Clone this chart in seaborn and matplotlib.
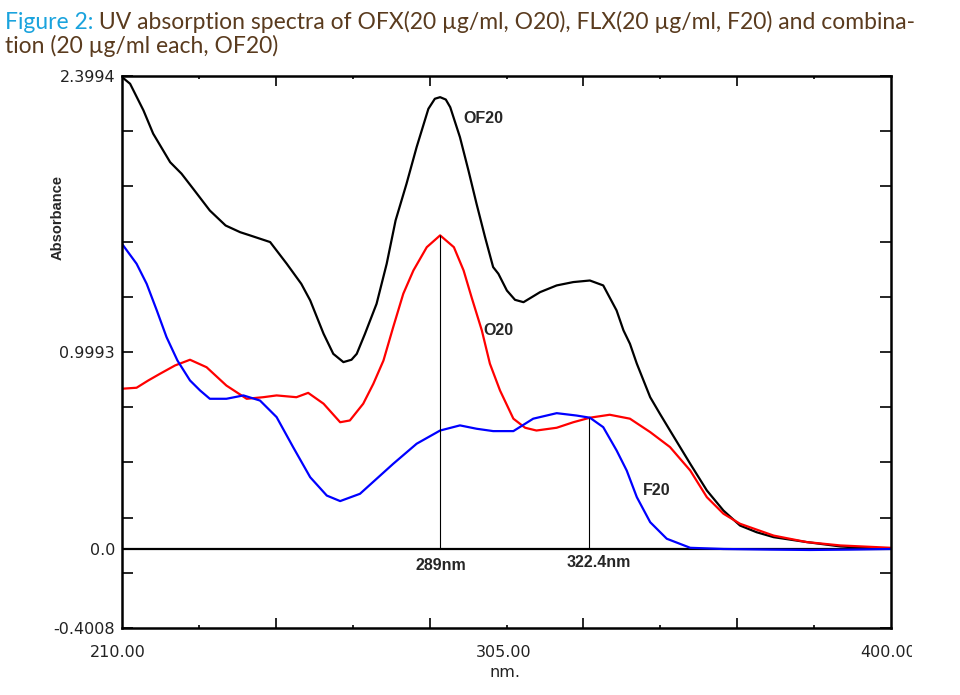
import matplotlib
matplotlib.use("Agg")
import matplotlib.pyplot as plt
import seaborn as sns
import pandas as pd
from matplotlib.transforms import Bbox

# wavelength (nm) / absorbance
of20_wl = [210.0, 212.0, 215.3, 217.7, 221.9, 224.7, 227.6, 231.7, 235.6, 239.2,
           241.6, 246.6, 250.7, 254.3, 256.5, 259.8, 261.4, 262.2, 264.7, 266.7,
           268.0, 270.0, 272.9, 275.4, 277.6, 280.3, 282.8, 285.7,
           287.3, 288.6, 290.0, 291.1, 293.5, 295.6, 297.6, 299.7, 301.7, 303.0,
           305.1, 307.1, 309.2, 313.3, 317.4, 321.5, 325.6, 328.9, 332.2, 333.9,
           335.5, 337.2, 340.5, 342.9, 345.4, 350.4, 354.5, 358.6, 362.7, 366.8,
           371.0, 379.2, 387.5, 393.0, 400.0]
of20_abs = [2.394, 2.36, 2.225, 2.107, 1.962, 1.904, 1.827, 1.717, 1.641, 1.607,
            1.591, 1.557, 1.447, 1.345, 1.261, 1.092, 1.024, 0.990, 0.948, 0.960,
            0.990, 1.090, 1.244, 1.447, 1.667, 1.853, 2.039, 2.233,
            2.284, 2.292, 2.280, 2.241, 2.089, 1.920, 1.751, 1.582, 1.430, 1.396,
            1.311, 1.264, 1.252, 1.303, 1.337, 1.354, 1.362, 1.337, 1.210, 1.109,
            1.041, 0.940, 0.770, 0.686, 0.601, 0.432, 0.297, 0.195, 0.119, 0.085,
            0.060, 0.035, 0.013, 0.006, 0.001]

o20_wl = [210.0, 213.6, 216.5, 219.4, 223.1, 226.8, 230.9, 235.8, 240.8, 244.9,
          248.2, 253.1, 256.0, 259.8, 263.9, 266.3, 269.6, 272.1, 274.6, 277.0,
          279.5, 282.0, 285.3, 288.6, 292.0, 294.4, 296.4, 298.9, 300.9, 303.4,
          306.7, 309.6, 312.4, 317.4, 321.5, 325.6, 330.5, 335.5, 340.5, 345.4,
          350.4, 354.5, 358.6, 362.7, 371.0, 379.2, 387.5, 400.0]
o20_abs = [0.813, 0.818, 0.855, 0.889, 0.931, 0.960, 0.922, 0.829, 0.762, 0.770,
           0.779, 0.770, 0.792, 0.737, 0.643, 0.652, 0.737, 0.838, 0.956, 1.125,
           1.295, 1.413, 1.531, 1.591, 1.531, 1.413, 1.275, 1.109, 0.940, 0.804,
           0.661, 0.615, 0.601, 0.615, 0.643, 0.666, 0.681, 0.661, 0.593, 0.517,
           0.398, 0.263, 0.179, 0.128, 0.068, 0.035, 0.018, 0.006]

f20_wl = [210.0, 213.6, 216.1, 218.6, 221.0, 223.7, 226.8, 229.3, 231.7, 235.8,
          240.0, 244.1, 248.2, 252.3, 256.5, 260.6, 263.9, 268.8, 272.9, 277.0,
          282.8, 288.6, 293.5, 297.6, 301.7, 306.7, 311.6, 317.4, 322.3, 325.6,
          328.9, 332.2, 334.7, 337.2, 340.5, 344.6, 350.4, 358.6, 370.0, 380.0,
          390.0, 400.0]
f20_abs = [1.548, 1.447, 1.345, 1.210, 1.075, 0.956, 0.855, 0.804, 0.762, 0.762,
           0.779, 0.753, 0.669, 0.516, 0.364, 0.271, 0.243, 0.280, 0.356, 0.432,
           0.534, 0.601, 0.627, 0.610, 0.598, 0.598, 0.661, 0.689, 0.677, 0.666,
           0.618, 0.500, 0.398, 0.263, 0.136, 0.052, 0.006, 0.0, -0.003, -0.005,
           -0.003, 0.0]

peak_wl = [288.6, 325.5]
peak_abs = [1.591, 0.666]
peak_labels = ["289nm", "322.4nm"]

y_ticks = [-0.4008, -0.1208, 0.0, 0.1592, 0.4393, 0.7193, 0.9993, 1.2793,
           1.5594, 1.8394, 2.1194, 2.3994]
y_labels = ["-0.4008", "", "0.0", "", "", "", "0.9993", "", "", "", "", "2.3994"]
x_major = [248, 286, 324, 362]
x_minor = [229, 267, 305, 343, 381]
x_labels = ["210.00", "305.00", "400.00"]

title_cyan = "Figure 2:"
title_rest = " UV absorption spectra of OFX(20 \u00b5g/ml, O20), FLX(20 \u00b5g/ml, F20) and combina-"
title_line2 = "tion (20 \u00b5g/ml each, OF20)"

sns.set_style("white")
plt.rcParams["font.family"] = ["DejaVu Sans"]

fig = plt.figure(figsize=(9.6, 6.95), dpi=100)
ax = fig.add_axes([122 / 960, 67 / 695, 769 / 960, 552 / 695])

spectra = [
    (of20_wl, of20_abs, "black"),
    (o20_wl, o20_abs, "#ff0000"),
    (f20_wl, f20_abs, "#0000ff"),
]
for wl, ab, col in spectra:
    df = pd.DataFrame({"nm": wl, "abs": ab})
    sns.lineplot(data=df, x="nm", y="abs", color=col, lw=1.6, estimator=None, ax=ax)

ax.axhline(0, color="black", lw=1.6, zorder=1)
ax.vlines(peak_wl, 0, peak_abs, color="black", lw=0.8)

ax.set_xlim(210, 400)
ax.set_ylim(-0.4008, 2.3994)
ax.set_xlabel("")
ax.set_ylabel("")

ax.set_xticks(x_major)
ax.set_xticks(x_minor, minor=True)
ax.tick_params(axis="x", which="major", direction="in", length=7, width=1.4,
               top=True, bottom=True, labelbottom=False)
ax.tick_params(axis="x", which="minor", direction="in", length=2.5, width=1.4,
               top=True, bottom=True)
ax.set_yticks(y_ticks)
ax.set_yticklabels(y_labels)
ax.tick_params(axis="y", direction="in", length=8, width=1.4, left=True,
               right=True, pad=5, labelsize=11.5, labelcolor="#222222")
for s in ax.spines.values():
    s.set_linewidth(1.8)
    s.set_color("black")

# curve and peak annotations
bold = dict(family=["Liberation Sans"], fontweight="bold", fontsize=11.5)
ax.text(294.3, 2.184, "OF20", va="center", ha="left", **bold)
ax.text(299.2, 1.108, "O20", va="center", ha="left", **bold)
ax.text(338.7, 0.297, "F20", va="center", ha="left", **bold)
ax.text(288.9, -0.083, peak_labels[0], va="center", ha="center", **bold)
ax.text(327.9, -0.068, peak_labels[1], va="center", ha="center", **bold)

# x tick labels and axis name under the frame
xt = ax.get_xaxis_transform()
lab_kw = dict(fontsize=11.5, color="#222222", ha="center", va="center", transform=xt)
ax.text(209.0, -0.0435, x_labels[0], **lab_kw)
ax.text(304.2, -0.0435, x_labels[1], **lab_kw)
t400 = ax.text(399.3, -0.0435, x_labels[2], clip_on=True, **lab_kw)
t400.set_clip_box(Bbox([[0, 0], [912, 695]]))
ax.text(304.6, -0.080, "nm.", **lab_kw)

fig.text(57.5 / 960, 1 - 217 / 695, "Absorbance", rotation=90, ha="center",
         va="center", family=["Liberation Sans"], fontweight="bold", fontsize=10.5)

# two-colour caption
fig.canvas.draw()
renderer = fig.canvas.get_renderer()
fam = ["Lato", "DejaVu Sans"]
fs = 15
probe = fig.text(0, 0, title_cyan + title_rest, fontsize=fs, family=fam)
w = probe.get_window_extent(renderer).width
probe.remove()
fs = fs * 910 / w
t1 = fig.text(5 / 960, 1 - 29 / 695, title_cyan, color="#1aa3dd", fontsize=fs,
              family=fam, va="baseline")
bb = t1.get_window_extent(renderer)
fig.text(bb.x1 / 960, 1 - 29 / 695, title_rest, color="#5a3b1e", fontsize=fs,
         family=fam, va="baseline")
fig.text(5 / 960, 1 - 53 / 695, title_line2, color="#5a3b1e", fontsize=fs,
         family=fam, va="baseline")

fig.savefig("out.png", dpi=100, facecolor="white")
